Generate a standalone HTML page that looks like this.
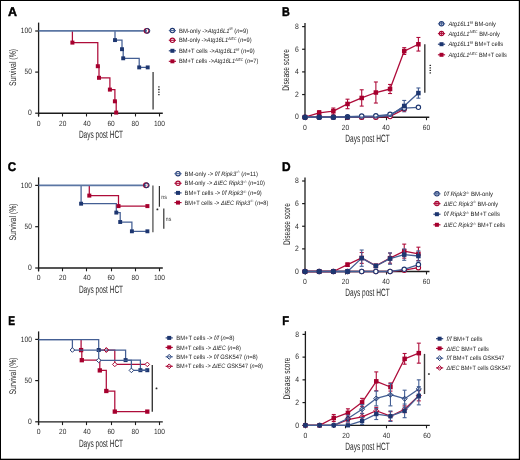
<!DOCTYPE html>
<html><head><meta charset="utf-8"><title>Figure</title>
<style>html,body{margin:0;padding:0;background:#fff;}body{width:520px;height:460px;overflow:hidden;font-family:"Liberation Sans",sans-serif;}svg{display:block;will-change:transform;text-rendering:geometricPrecision;}</style>
</head><body>
<svg width="520" height="460" viewBox="0 0 520 460" font-family='"Liberation Sans", sans-serif'>
<rect x="0" y="0" width="520" height="460" fill="#fff"/>
<text x="8" y="16.2" font-size="12.6" fill="#000" textLength="9" lengthAdjust="spacingAndGlyphs" font-weight="bold" stroke="#000" stroke-width="0.45">A</text>
<line x1="38.6" y1="22.6" x2="38.6" y2="116.5" stroke="#1c1c1c" stroke-width="1.3"/>
<line x1="37.95" y1="113.2" x2="162.8" y2="113.2" stroke="#1c1c1c" stroke-width="1.35"/>
<line x1="35.2" y1="113.2" x2="38.6" y2="113.2" stroke="#1c1c1c" stroke-width="1.2"/>
<text x="31.8" y="115.45" font-size="7.8" fill="#2a2a2a" text-anchor="end" textLength="3.8" lengthAdjust="spacingAndGlyphs">0</text>
<line x1="35.2" y1="72.1" x2="38.6" y2="72.1" stroke="#1c1c1c" stroke-width="1.2"/>
<text x="31.8" y="74.35" font-size="7.8" fill="#2a2a2a" text-anchor="end" textLength="7.3" lengthAdjust="spacingAndGlyphs">50</text>
<line x1="35.2" y1="31" x2="38.6" y2="31" stroke="#1c1c1c" stroke-width="1.2"/>
<text x="31.8" y="33.25" font-size="7.8" fill="#2a2a2a" text-anchor="end" textLength="11" lengthAdjust="spacingAndGlyphs">100</text>
<line x1="38.5" y1="113.2" x2="38.5" y2="116.5" stroke="#1c1c1c" stroke-width="1.1"/>
<text x="38.6" y="125.6" font-size="7.5" fill="#2a2a2a" text-anchor="middle" textLength="3.8" lengthAdjust="spacingAndGlyphs">0</text>
<line x1="62.5" y1="113.2" x2="62.5" y2="116.5" stroke="#1c1c1c" stroke-width="1.1"/>
<text x="62.76" y="125.6" font-size="7.5" fill="#2a2a2a" text-anchor="middle" textLength="7.3" lengthAdjust="spacingAndGlyphs">20</text>
<line x1="86.5" y1="113.2" x2="86.5" y2="116.5" stroke="#1c1c1c" stroke-width="1.1"/>
<text x="86.92" y="125.6" font-size="7.5" fill="#2a2a2a" text-anchor="middle" textLength="7.3" lengthAdjust="spacingAndGlyphs">40</text>
<line x1="111.5" y1="113.2" x2="111.5" y2="116.5" stroke="#1c1c1c" stroke-width="1.1"/>
<text x="111.08" y="125.6" font-size="7.5" fill="#2a2a2a" text-anchor="middle" textLength="7.3" lengthAdjust="spacingAndGlyphs">60</text>
<line x1="135.5" y1="113.2" x2="135.5" y2="116.5" stroke="#1c1c1c" stroke-width="1.1"/>
<text x="135.24" y="125.6" font-size="7.5" fill="#2a2a2a" text-anchor="middle" textLength="7.3" lengthAdjust="spacingAndGlyphs">80</text>
<line x1="159.5" y1="113.2" x2="159.5" y2="116.5" stroke="#1c1c1c" stroke-width="1.1"/>
<text x="159.4" y="125.6" font-size="7.5" fill="#2a2a2a" text-anchor="middle" textLength="11" lengthAdjust="spacingAndGlyphs">100</text>
<text x="16" y="67.5" font-size="9.6" fill="#2a2a2a" text-anchor="middle" textLength="37.2" lengthAdjust="spacingAndGlyphs" transform="rotate(-90 16 67.5)">Survival (%)</text>
<text x="101" y="137.9" font-size="10.6" fill="#2a2a2a" text-anchor="middle" textLength="44.2" lengthAdjust="spacingAndGlyphs">Days post HCT</text>
<path d="M72.4 31V42.6H97.8V66.2H99V77.8H109.9V89.6H114.9V101.3H116.2V112.9" stroke="#ae0c3a" stroke-width="1.25" fill="none"/>
<path d="M115 31V40.1H122V49.2H123.2V58.3H139.2V67.4H147.7" stroke="#445f94" stroke-width="1.25" fill="none"/>
<path d="M38.6 30.85H147" stroke="#5b76a3" stroke-width="1.7" fill="none"/>
<rect x="113.05" y="38.15" width="3.9" height="3.9" fill="#1d3670"/>
<rect x="120.05" y="47.25" width="3.9" height="3.9" fill="#1d3670"/>
<rect x="121.25" y="56.35" width="3.9" height="3.9" fill="#1d3670"/>
<rect x="137.25" y="65.45" width="3.9" height="3.9" fill="#1d3670"/>
<rect x="145.75" y="65.45" width="3.9" height="3.9" fill="#1d3670"/>
<rect x="70.4" y="40.6" width="4" height="4" fill="#a6002e"/>
<rect x="95.8" y="64.2" width="4" height="4" fill="#a6002e"/>
<rect x="97" y="75.8" width="4" height="4" fill="#a6002e"/>
<rect x="107.9" y="87.6" width="4" height="4" fill="#a6002e"/>
<rect x="112.9" y="99.3" width="4" height="4" fill="#a6002e"/>
<rect x="114.2" y="110.6" width="4" height="4" fill="#a6002e"/>
<circle cx="146.6" cy="30.85" r="2.4" stroke="#a6002e" stroke-width="1.15" fill="none"/>
<circle cx="147.4" cy="30.85" r="2.4" stroke="#1d3670" stroke-width="1" fill="none"/>
<line x1="153.1" y1="71.9" x2="153.1" y2="109.6" stroke="#555" stroke-width="1.5"/>
<rect x="158.1" y="86.25" width="1.6" height="1.3" rx="0.5" fill="#2a2a2a"/>
<rect x="158.1" y="88.85" width="1.6" height="1.3" rx="0.5" fill="#2a2a2a"/>
<rect x="158.1" y="91.45" width="1.6" height="1.3" rx="0.5" fill="#2a2a2a"/>
<rect x="158.1" y="94.05" width="1.6" height="1.3" rx="0.5" fill="#2a2a2a"/>
<circle cx="172.4" cy="30.6" r="2.2" stroke="#1d3670" stroke-width="1.1" fill="none"/>
<line x1="168.8" y1="30.6" x2="176" y2="30.6" stroke="#445f94" stroke-width="1.1"/>
<circle cx="172.4" cy="40.3" r="2.2" stroke="#a6002e" stroke-width="1.1" fill="none"/>
<line x1="168.8" y1="40.3" x2="176" y2="40.3" stroke="#ae0c3a" stroke-width="1.1"/>
<rect x="170.4" y="48.8" width="4" height="4" fill="#1d3670"/>
<line x1="168.8" y1="50.8" x2="176" y2="50.8" stroke="#1d3670" stroke-width="1.1"/>
<rect x="170.4" y="59.3" width="4" height="4" fill="#a6002e"/>
<line x1="168.8" y1="61.3" x2="176" y2="61.3" stroke="#a6002e" stroke-width="1.1"/>
<text x="179" y="32.7" font-size="6.3" fill="#222" textLength="69.2" lengthAdjust="spacingAndGlyphs"><tspan>BM-only -&gt;</tspan><tspan font-style="italic">Atg16L1</tspan><tspan font-size="3.9" dy="-2.4">f/f</tspan><tspan dy="2.4"> (</tspan><tspan font-style="italic">n</tspan><tspan>=9)</tspan></text>
<text x="179" y="42.4" font-size="6.3" fill="#222" textLength="72.6" lengthAdjust="spacingAndGlyphs"><tspan>BM-only -&gt;</tspan><tspan font-style="italic">Atg16L1</tspan><tspan font-size="3.9" dy="-2.4">ΔIEC</tspan><tspan dy="2.4"> (</tspan><tspan font-style="italic">n</tspan><tspan>=9)</tspan></text>
<text x="179" y="52.9" font-size="6.3" fill="#222" textLength="75.7" lengthAdjust="spacingAndGlyphs"><tspan>BM+T cells -&gt;</tspan><tspan font-style="italic">Atg16L1</tspan><tspan font-size="3.9" dy="-2.4">f/f</tspan><tspan dy="2.4"> (</tspan><tspan font-style="italic">n</tspan><tspan>=9)</tspan></text>
<text x="179" y="63.4" font-size="6.3" fill="#222" textLength="79.4" lengthAdjust="spacingAndGlyphs"><tspan>BM+T cells -&gt;</tspan><tspan font-style="italic">Atg16L1</tspan><tspan font-size="3.9" dy="-2.4">ΔIEC</tspan><tspan dy="2.4"> (</tspan><tspan font-style="italic">n</tspan><tspan>=7)</tspan></text>
<text x="7.8" y="171" font-size="12.6" fill="#000" textLength="8.4" lengthAdjust="spacingAndGlyphs" font-weight="bold" stroke="#000" stroke-width="0.45">C</text>
<line x1="38.6" y1="177.3" x2="38.6" y2="271.3" stroke="#1c1c1c" stroke-width="1.3"/>
<line x1="37.95" y1="268" x2="162.8" y2="268" stroke="#1c1c1c" stroke-width="1.35"/>
<line x1="35.2" y1="268" x2="38.6" y2="268" stroke="#1c1c1c" stroke-width="1.2"/>
<text x="31.8" y="270.25" font-size="7.8" fill="#2a2a2a" text-anchor="end" textLength="3.8" lengthAdjust="spacingAndGlyphs">0</text>
<line x1="35.2" y1="226.7" x2="38.6" y2="226.7" stroke="#1c1c1c" stroke-width="1.2"/>
<text x="31.8" y="228.95" font-size="7.8" fill="#2a2a2a" text-anchor="end" textLength="7.3" lengthAdjust="spacingAndGlyphs">50</text>
<line x1="35.2" y1="185.4" x2="38.6" y2="185.4" stroke="#1c1c1c" stroke-width="1.2"/>
<text x="31.8" y="187.65" font-size="7.8" fill="#2a2a2a" text-anchor="end" textLength="11" lengthAdjust="spacingAndGlyphs">100</text>
<line x1="38.5" y1="268" x2="38.5" y2="271.3" stroke="#1c1c1c" stroke-width="1.1"/>
<text x="38.6" y="280.4" font-size="7.5" fill="#2a2a2a" text-anchor="middle" textLength="3.8" lengthAdjust="spacingAndGlyphs">0</text>
<line x1="62.5" y1="268" x2="62.5" y2="271.3" stroke="#1c1c1c" stroke-width="1.1"/>
<text x="62.76" y="280.4" font-size="7.5" fill="#2a2a2a" text-anchor="middle" textLength="7.3" lengthAdjust="spacingAndGlyphs">20</text>
<line x1="86.5" y1="268" x2="86.5" y2="271.3" stroke="#1c1c1c" stroke-width="1.1"/>
<text x="86.92" y="280.4" font-size="7.5" fill="#2a2a2a" text-anchor="middle" textLength="7.3" lengthAdjust="spacingAndGlyphs">40</text>
<line x1="111.5" y1="268" x2="111.5" y2="271.3" stroke="#1c1c1c" stroke-width="1.1"/>
<text x="111.08" y="280.4" font-size="7.5" fill="#2a2a2a" text-anchor="middle" textLength="7.3" lengthAdjust="spacingAndGlyphs">60</text>
<line x1="135.5" y1="268" x2="135.5" y2="271.3" stroke="#1c1c1c" stroke-width="1.1"/>
<text x="135.24" y="280.4" font-size="7.5" fill="#2a2a2a" text-anchor="middle" textLength="7.3" lengthAdjust="spacingAndGlyphs">80</text>
<line x1="159.5" y1="268" x2="159.5" y2="271.3" stroke="#1c1c1c" stroke-width="1.1"/>
<text x="159.4" y="280.4" font-size="7.5" fill="#2a2a2a" text-anchor="middle" textLength="11" lengthAdjust="spacingAndGlyphs">100</text>
<text x="16" y="222" font-size="9.6" fill="#2a2a2a" text-anchor="middle" textLength="37.2" lengthAdjust="spacingAndGlyphs" transform="rotate(-90 16 222)">Survival (%)</text>
<text x="101" y="292.5" font-size="10.6" fill="#2a2a2a" text-anchor="middle" textLength="44.2" lengthAdjust="spacingAndGlyphs">Days post HCT</text>
<path d="M89.3 185.4V195.6H118.5V206.1H147.4" stroke="#ae0c3a" stroke-width="1.25" fill="none"/>
<path d="M81.1 185.4V203.7H116.3V212.6H120.2V222H131.9V231.3H147.4" stroke="#445f94" stroke-width="1.25" fill="none"/>
<path d="M38.6 185.4H146.4" stroke="#5b76a3" stroke-width="1.6" fill="none"/>
<rect x="79.15" y="201.75" width="3.9" height="3.9" fill="#1d3670"/>
<rect x="114.35" y="210.65" width="3.9" height="3.9" fill="#1d3670"/>
<rect x="118.25" y="220.05" width="3.9" height="3.9" fill="#1d3670"/>
<rect x="129.95" y="229.35" width="3.9" height="3.9" fill="#1d3670"/>
<rect x="145.45" y="229.35" width="3.9" height="3.9" fill="#1d3670"/>
<rect x="87.3" y="193.6" width="4" height="4" fill="#a6002e"/>
<rect x="116.5" y="204.1" width="4" height="4" fill="#a6002e"/>
<rect x="145.4" y="204.1" width="4" height="4" fill="#a6002e"/>
<circle cx="146" cy="185.3" r="2.4" stroke="#a6002e" stroke-width="1.15" fill="none"/>
<circle cx="146.8" cy="185.3" r="2.4" stroke="#1d3670" stroke-width="1" fill="none"/>
<line x1="152.9" y1="185.6" x2="152.9" y2="232.2" stroke="#6a6a6a" stroke-width="1.5"/>
<line x1="159.4" y1="186" x2="159.4" y2="206.7" stroke="#333" stroke-width="1.2"/>
<line x1="163.8" y1="208.6" x2="163.8" y2="228.7" stroke="#333" stroke-width="1.2"/>
<text x="164" y="198.8" font-size="6" fill="#333" text-anchor="middle" textLength="5.6" lengthAdjust="spacingAndGlyphs">ns</text>
<text x="168.5" y="221.1" font-size="6" fill="#333" text-anchor="middle" textLength="5.4" lengthAdjust="spacingAndGlyphs">ns</text>
<rect x="156.5" y="208.45" width="1.8" height="1.7" rx="0.5" fill="#2a2a2a"/>
<circle cx="178" cy="173.7" r="2.2" stroke="#1d3670" stroke-width="1.1" fill="none"/>
<line x1="174.4" y1="173.7" x2="181.6" y2="173.7" stroke="#445f94" stroke-width="1.1"/>
<circle cx="178" cy="183.3" r="2.2" stroke="#a6002e" stroke-width="1.1" fill="none"/>
<line x1="174.4" y1="183.3" x2="181.6" y2="183.3" stroke="#ae0c3a" stroke-width="1.1"/>
<rect x="176" y="190.9" width="4" height="4" fill="#1d3670"/>
<line x1="174.4" y1="192.9" x2="181.6" y2="192.9" stroke="#1d3670" stroke-width="1.1"/>
<rect x="176" y="200.6" width="4" height="4" fill="#a6002e"/>
<line x1="174.4" y1="202.6" x2="181.6" y2="202.6" stroke="#a6002e" stroke-width="1.1"/>
<text x="184.6" y="175.8" font-size="6.3" fill="#222" textLength="73.4" lengthAdjust="spacingAndGlyphs"><tspan>BM-only -&gt; </tspan><tspan font-style="italic">f/f Ripk3</tspan><tspan font-size="3.9" dy="-2.4">-/-</tspan><tspan dy="2.4"> (</tspan><tspan font-style="italic">n</tspan><tspan>=11)</tspan></text>
<text x="184.6" y="185.4" font-size="6.3" fill="#222" textLength="80.2" lengthAdjust="spacingAndGlyphs"><tspan>BM-only -&gt; </tspan><tspan font-style="italic">ΔIEC Ripk3</tspan><tspan font-size="3.9" dy="-2.4">-/-</tspan><tspan dy="2.4"> (</tspan><tspan font-style="italic">n</tspan><tspan>=10)</tspan></text>
<text x="184.6" y="195" font-size="6.3" fill="#222" textLength="77.2" lengthAdjust="spacingAndGlyphs"><tspan>BM+T cells -&gt; </tspan><tspan font-style="italic">f/f Ripk3</tspan><tspan font-size="3.9" dy="-2.4">-/-</tspan><tspan dy="2.4"> (</tspan><tspan font-style="italic">n</tspan><tspan>=9)</tspan></text>
<text x="184.6" y="204.7" font-size="6.3" fill="#222" textLength="83.8" lengthAdjust="spacingAndGlyphs"><tspan>BM+T cells -&gt; </tspan><tspan font-style="italic">ΔIEC Ripk3</tspan><tspan font-size="3.9" dy="-2.4">-/-</tspan><tspan dy="2.4"> (</tspan><tspan font-style="italic">n</tspan><tspan>=8)</tspan></text>
<text x="8.3" y="325" font-size="12.6" fill="#000" textLength="6.8" lengthAdjust="spacingAndGlyphs" font-weight="bold" stroke="#000" stroke-width="0.45">E</text>
<line x1="38.6" y1="331.4" x2="38.6" y2="425.1" stroke="#1c1c1c" stroke-width="1.3"/>
<line x1="37.95" y1="421.8" x2="162.8" y2="421.8" stroke="#1c1c1c" stroke-width="1.35"/>
<line x1="35.2" y1="421.8" x2="38.6" y2="421.8" stroke="#1c1c1c" stroke-width="1.2"/>
<text x="31.8" y="424.05" font-size="7.8" fill="#2a2a2a" text-anchor="end" textLength="3.8" lengthAdjust="spacingAndGlyphs">0</text>
<line x1="35.2" y1="380.6" x2="38.6" y2="380.6" stroke="#1c1c1c" stroke-width="1.2"/>
<text x="31.8" y="382.85" font-size="7.8" fill="#2a2a2a" text-anchor="end" textLength="7.3" lengthAdjust="spacingAndGlyphs">50</text>
<line x1="35.2" y1="339.4" x2="38.6" y2="339.4" stroke="#1c1c1c" stroke-width="1.2"/>
<text x="31.8" y="341.65" font-size="7.8" fill="#2a2a2a" text-anchor="end" textLength="11" lengthAdjust="spacingAndGlyphs">100</text>
<line x1="38.5" y1="421.8" x2="38.5" y2="425.1" stroke="#1c1c1c" stroke-width="1.1"/>
<text x="38.6" y="434.2" font-size="7.5" fill="#2a2a2a" text-anchor="middle" textLength="3.8" lengthAdjust="spacingAndGlyphs">0</text>
<line x1="62.5" y1="421.8" x2="62.5" y2="425.1" stroke="#1c1c1c" stroke-width="1.1"/>
<text x="62.76" y="434.2" font-size="7.5" fill="#2a2a2a" text-anchor="middle" textLength="7.3" lengthAdjust="spacingAndGlyphs">20</text>
<line x1="86.5" y1="421.8" x2="86.5" y2="425.1" stroke="#1c1c1c" stroke-width="1.1"/>
<text x="86.92" y="434.2" font-size="7.5" fill="#2a2a2a" text-anchor="middle" textLength="7.3" lengthAdjust="spacingAndGlyphs">40</text>
<line x1="111.5" y1="421.8" x2="111.5" y2="425.1" stroke="#1c1c1c" stroke-width="1.1"/>
<text x="111.08" y="434.2" font-size="7.5" fill="#2a2a2a" text-anchor="middle" textLength="7.3" lengthAdjust="spacingAndGlyphs">60</text>
<line x1="135.5" y1="421.8" x2="135.5" y2="425.1" stroke="#1c1c1c" stroke-width="1.1"/>
<text x="135.24" y="434.2" font-size="7.5" fill="#2a2a2a" text-anchor="middle" textLength="7.3" lengthAdjust="spacingAndGlyphs">80</text>
<line x1="159.5" y1="421.8" x2="159.5" y2="425.1" stroke="#1c1c1c" stroke-width="1.1"/>
<text x="159.4" y="434.2" font-size="7.5" fill="#2a2a2a" text-anchor="middle" textLength="11" lengthAdjust="spacingAndGlyphs">100</text>
<text x="16" y="376" font-size="9.6" fill="#2a2a2a" text-anchor="middle" textLength="37.2" lengthAdjust="spacingAndGlyphs" transform="rotate(-90 16 376)">Survival (%)</text>
<text x="101" y="446.5" font-size="10.6" fill="#2a2a2a" text-anchor="middle" textLength="44.2" lengthAdjust="spacingAndGlyphs">Days post HCT</text>
<path d="M81.1 339.5V350.1H81.8V360.2H99.8V370.4H106.3V391H114.8V411.6H147.3" stroke="#ae0c3a" stroke-width="1.25" fill="none"/>
<rect x="78.95" y="347.95" width="4.3" height="4.3" fill="#a6002e"/>
<rect x="79.65" y="358.05" width="4.3" height="4.3" fill="#a6002e"/>
<rect x="97.65" y="368.25" width="4.3" height="4.3" fill="#a6002e"/>
<rect x="104.15" y="388.85" width="4.3" height="4.3" fill="#a6002e"/>
<rect x="112.65" y="409.45" width="4.3" height="4.3" fill="#a6002e"/>
<rect x="145.15" y="409.45" width="4.3" height="4.3" fill="#a6002e"/>
<path d="M98.7 350H114.8V364.4H147.3" stroke="#ae0c3a" stroke-width="1.25" fill="none"/>
<path d="M106.3 347.7L108.6 350L106.3 352.3L104 350Z" stroke="#a6002e" stroke-width="0.95" fill="#fff"/>
<path d="M114.8 362.1L117.1 364.4L114.8 366.7L112.5 364.4Z" stroke="#a6002e" stroke-width="0.95" fill="#fff"/>
<path d="M147.3 362.1L149.6 364.4L147.3 366.7L145 364.4Z" stroke="#a6002e" stroke-width="0.95" fill="#fff"/>
<path d="M38.6 339.5H98.7V350H125.6V360.1H140.4V370.2H147.3" stroke="#445f94" stroke-width="1.25" fill="none"/>
<rect x="96.7" y="348" width="4" height="4" fill="#1d3670"/>
<rect x="123.6" y="358.1" width="4" height="4" fill="#1d3670"/>
<rect x="138.4" y="368.2" width="4" height="4" fill="#1d3670"/>
<rect x="145.3" y="368.2" width="4" height="4" fill="#1d3670"/>
<path d="M38.6 339.5H72.4V350H98.7V360.4H131.4V370.4H147.3" stroke="#445f94" stroke-width="1.25" fill="none"/>
<path d="M72.4 347.7L74.7 350L72.4 352.3L70.1 350Z" stroke="#1d3670" stroke-width="0.95" fill="#fff"/>
<path d="M98.7 358.1L101 360.4L98.7 362.7L96.4 360.4Z" stroke="#1d3670" stroke-width="0.95" fill="#fff"/>
<path d="M131.4 368.1L133.7 370.4L131.4 372.7L129.1 370.4Z" stroke="#1d3670" stroke-width="0.95" fill="#fff"/>
<path d="M106.3 347.7L108.6 350L106.3 352.3L104 350Z" stroke="#a6002e" stroke-width="0.95" fill="none"/>
<line x1="152.3" y1="365" x2="152.3" y2="411.7" stroke="#3a3a3a" stroke-width="1.4"/>
<rect x="155.6" y="387.45" width="1.8" height="1.7" rx="0.5" fill="#2a2a2a"/>
<rect x="167.2" y="335.9" width="4" height="4" fill="#1d3670"/>
<line x1="165.6" y1="337.9" x2="172.8" y2="337.9" stroke="#1d3670" stroke-width="1.1"/>
<rect x="167.2" y="345.4" width="4" height="4" fill="#a6002e"/>
<line x1="165.6" y1="347.4" x2="172.8" y2="347.4" stroke="#a6002e" stroke-width="1.1"/>
<path d="M169.2 354.4L171.6 356.8L169.2 359.2L166.8 356.8Z" stroke="#1d3670" stroke-width="1" fill="none"/>
<line x1="165.6" y1="356.8" x2="172.8" y2="356.8" stroke="#445f94" stroke-width="1.1"/>
<path d="M169.2 363.9L171.6 366.3L169.2 368.7L166.8 366.3Z" stroke="#a6002e" stroke-width="1" fill="none"/>
<line x1="165.6" y1="366.3" x2="172.8" y2="366.3" stroke="#ae0c3a" stroke-width="1.1"/>
<text x="176.3" y="340" font-size="6.3" fill="#222" textLength="58.1" lengthAdjust="spacingAndGlyphs"><tspan>BM+T cells -&gt; </tspan><tspan font-style="italic">f/f</tspan><tspan> (</tspan><tspan font-style="italic">n</tspan><tspan>=8)</tspan></text>
<text x="176.3" y="349.5" font-size="6.3" fill="#222" textLength="64.5" lengthAdjust="spacingAndGlyphs"><tspan>BM+T cells -&gt; </tspan><tspan font-style="italic">ΔIEC</tspan><tspan> (</tspan><tspan font-style="italic">n</tspan><tspan>=8)</tspan></text>
<text x="176.3" y="358.9" font-size="6.3" fill="#222" textLength="81.5" lengthAdjust="spacingAndGlyphs"><tspan>BM+T cells -&gt; </tspan><tspan font-style="italic">f/f</tspan><tspan> GSK547 (</tspan><tspan font-style="italic">n</tspan><tspan>=8)</tspan></text>
<text x="176.3" y="368.4" font-size="6.3" fill="#222" textLength="86.6" lengthAdjust="spacingAndGlyphs"><tspan>BM+T cells -&gt; </tspan><tspan font-style="italic">ΔIEC</tspan><tspan> GSK547 (</tspan><tspan font-style="italic">n</tspan><tspan>=8)</tspan></text>
<text x="282" y="16.4" font-size="12.6" fill="#000" textLength="7.8" lengthAdjust="spacingAndGlyphs" font-weight="bold" stroke="#000" stroke-width="0.45">B</text>
<line x1="305" y1="23.1" x2="305" y2="117.2" stroke="#1c1c1c" stroke-width="1.3"/>
<line x1="304.35" y1="117.2" x2="429.3" y2="117.2" stroke="#1c1c1c" stroke-width="1.35"/>
<line x1="302.1" y1="117.2" x2="305" y2="117.2" stroke="#1c1c1c" stroke-width="1.2"/>
<text x="298.7" y="119.45" font-size="7.8" fill="#2a2a2a" text-anchor="end" textLength="3.8" lengthAdjust="spacingAndGlyphs">0</text>
<line x1="302.1" y1="94.55" x2="305" y2="94.55" stroke="#1c1c1c" stroke-width="1.2"/>
<text x="298.7" y="96.8" font-size="7.8" fill="#2a2a2a" text-anchor="end" textLength="3.8" lengthAdjust="spacingAndGlyphs">2</text>
<line x1="302.1" y1="71.9" x2="305" y2="71.9" stroke="#1c1c1c" stroke-width="1.2"/>
<text x="298.7" y="74.15" font-size="7.8" fill="#2a2a2a" text-anchor="end" textLength="3.8" lengthAdjust="spacingAndGlyphs">4</text>
<line x1="302.1" y1="49.25" x2="305" y2="49.25" stroke="#1c1c1c" stroke-width="1.2"/>
<text x="298.7" y="51.5" font-size="7.8" fill="#2a2a2a" text-anchor="end" textLength="3.8" lengthAdjust="spacingAndGlyphs">6</text>
<line x1="302.1" y1="26.6" x2="305" y2="26.6" stroke="#1c1c1c" stroke-width="1.2"/>
<text x="298.7" y="28.85" font-size="7.8" fill="#2a2a2a" text-anchor="end" textLength="3.8" lengthAdjust="spacingAndGlyphs">8</text>
<line x1="305.5" y1="117.2" x2="305.5" y2="120.2" stroke="#1c1c1c" stroke-width="1.1"/>
<text x="305" y="129.5" font-size="7.5" fill="#2a2a2a" text-anchor="middle" textLength="3.8" lengthAdjust="spacingAndGlyphs">0</text>
<line x1="345.5" y1="117.2" x2="345.5" y2="120.2" stroke="#1c1c1c" stroke-width="1.1"/>
<text x="345.5" y="129.5" font-size="7.5" fill="#2a2a2a" text-anchor="middle" textLength="7.3" lengthAdjust="spacingAndGlyphs">20</text>
<line x1="386.5" y1="117.2" x2="386.5" y2="120.2" stroke="#1c1c1c" stroke-width="1.1"/>
<text x="386" y="129.5" font-size="7.5" fill="#2a2a2a" text-anchor="middle" textLength="7.3" lengthAdjust="spacingAndGlyphs">40</text>
<line x1="426.5" y1="117.2" x2="426.5" y2="120.2" stroke="#1c1c1c" stroke-width="1.1"/>
<text x="426.5" y="129.5" font-size="7.5" fill="#2a2a2a" text-anchor="middle" textLength="7.3" lengthAdjust="spacingAndGlyphs">60</text>
<text x="289.5" y="69.9" font-size="9.6" fill="#2a2a2a" text-anchor="middle" textLength="41.8" lengthAdjust="spacingAndGlyphs" transform="rotate(-90 289.5 69.9)">Disease score</text>
<text x="367.5" y="142.2" font-size="10.6" fill="#2a2a2a" text-anchor="middle" textLength="44.4" lengthAdjust="spacingAndGlyphs">Days post HCT</text>
<line x1="319.18" y1="110.63" x2="319.18" y2="115.16" stroke="#ae0c3a" stroke-width="1.1"/>
<line x1="317.18" y1="110.63" x2="321.18" y2="110.63" stroke="#ae0c3a" stroke-width="1.1"/>
<line x1="317.18" y1="115.16" x2="321.18" y2="115.16" stroke="#ae0c3a" stroke-width="1.1"/>
<line x1="333.35" y1="108.03" x2="333.35" y2="114.14" stroke="#ae0c3a" stroke-width="1.1"/>
<line x1="331.35" y1="108.03" x2="335.35" y2="108.03" stroke="#ae0c3a" stroke-width="1.1"/>
<line x1="331.35" y1="114.14" x2="335.35" y2="114.14" stroke="#ae0c3a" stroke-width="1.1"/>
<line x1="347.52" y1="99.19" x2="347.52" y2="108.71" stroke="#ae0c3a" stroke-width="1.1"/>
<line x1="345.52" y1="99.19" x2="349.52" y2="99.19" stroke="#ae0c3a" stroke-width="1.1"/>
<line x1="345.52" y1="108.71" x2="349.52" y2="108.71" stroke="#ae0c3a" stroke-width="1.1"/>
<line x1="361.7" y1="89.79" x2="361.7" y2="106.1" stroke="#ae0c3a" stroke-width="1.1"/>
<line x1="359.7" y1="89.79" x2="363.7" y2="89.79" stroke="#ae0c3a" stroke-width="1.1"/>
<line x1="359.7" y1="106.1" x2="363.7" y2="106.1" stroke="#ae0c3a" stroke-width="1.1"/>
<line x1="375.88" y1="81.98" x2="375.88" y2="103.04" stroke="#ae0c3a" stroke-width="1.1"/>
<line x1="373.88" y1="81.98" x2="377.88" y2="81.98" stroke="#ae0c3a" stroke-width="1.1"/>
<line x1="373.88" y1="103.04" x2="377.88" y2="103.04" stroke="#ae0c3a" stroke-width="1.1"/>
<line x1="390.05" y1="84.47" x2="390.05" y2="93.53" stroke="#ae0c3a" stroke-width="1.1"/>
<line x1="388.05" y1="84.47" x2="392.05" y2="84.47" stroke="#ae0c3a" stroke-width="1.1"/>
<line x1="388.05" y1="93.53" x2="392.05" y2="93.53" stroke="#ae0c3a" stroke-width="1.1"/>
<line x1="404.23" y1="47.66" x2="404.23" y2="54.46" stroke="#ae0c3a" stroke-width="1.1"/>
<line x1="402.23" y1="47.66" x2="406.23" y2="47.66" stroke="#ae0c3a" stroke-width="1.1"/>
<line x1="402.23" y1="54.46" x2="406.23" y2="54.46" stroke="#ae0c3a" stroke-width="1.1"/>
<line x1="418.4" y1="37.47" x2="418.4" y2="51.06" stroke="#ae0c3a" stroke-width="1.1"/>
<line x1="416.4" y1="37.47" x2="420.4" y2="37.47" stroke="#ae0c3a" stroke-width="1.1"/>
<line x1="416.4" y1="51.06" x2="420.4" y2="51.06" stroke="#ae0c3a" stroke-width="1.1"/>
<path d="M305 117.2L319.18 112.9L333.35 111.08L347.52 103.95L361.7 97.95L375.88 92.51L390.05 89L404.23 51.06L418.4 44.27" stroke="#ae0c3a" stroke-width="1.3" fill="none" stroke-linejoin="round"/>
<rect x="302.75" y="114.95" width="4.5" height="4.5" fill="#a6002e"/>
<rect x="316.93" y="110.65" width="4.5" height="4.5" fill="#a6002e"/>
<rect x="331.1" y="108.83" width="4.5" height="4.5" fill="#a6002e"/>
<rect x="345.27" y="101.7" width="4.5" height="4.5" fill="#a6002e"/>
<rect x="359.45" y="95.7" width="4.5" height="4.5" fill="#a6002e"/>
<rect x="373.62" y="90.26" width="4.5" height="4.5" fill="#a6002e"/>
<rect x="387.8" y="86.75" width="4.5" height="4.5" fill="#a6002e"/>
<rect x="401.98" y="48.81" width="4.5" height="4.5" fill="#a6002e"/>
<rect x="416.15" y="42.02" width="4.5" height="4.5" fill="#a6002e"/>
<line x1="404.23" y1="100.44" x2="404.23" y2="111.76" stroke="#445f94" stroke-width="1.1"/>
<line x1="402.23" y1="100.44" x2="406.23" y2="100.44" stroke="#445f94" stroke-width="1.1"/>
<line x1="402.23" y1="111.76" x2="406.23" y2="111.76" stroke="#445f94" stroke-width="1.1"/>
<line x1="418.4" y1="87.98" x2="418.4" y2="98.17" stroke="#445f94" stroke-width="1.1"/>
<line x1="416.4" y1="87.98" x2="420.4" y2="87.98" stroke="#445f94" stroke-width="1.1"/>
<line x1="416.4" y1="98.17" x2="420.4" y2="98.17" stroke="#445f94" stroke-width="1.1"/>
<path d="M305 117.2L319.18 117.2L333.35 117.2L347.52 117.2L361.7 117.2L375.88 116.97L390.05 115.5L404.23 106.1L418.4 93.08" stroke="#445f94" stroke-width="1.3" fill="none" stroke-linejoin="round"/>
<rect x="302.75" y="114.95" width="4.5" height="4.5" fill="#1d3670"/>
<rect x="316.93" y="114.95" width="4.5" height="4.5" fill="#1d3670"/>
<rect x="331.1" y="114.95" width="4.5" height="4.5" fill="#1d3670"/>
<rect x="345.27" y="114.95" width="4.5" height="4.5" fill="#1d3670"/>
<rect x="359.45" y="114.95" width="4.5" height="4.5" fill="#1d3670"/>
<rect x="373.62" y="114.72" width="4.5" height="4.5" fill="#1d3670"/>
<rect x="387.8" y="113.25" width="4.5" height="4.5" fill="#1d3670"/>
<rect x="401.98" y="103.85" width="4.5" height="4.5" fill="#1d3670"/>
<rect x="416.15" y="90.83" width="4.5" height="4.5" fill="#1d3670"/>
<path d="M305 117.2L319.18 117.2L333.35 117.2L347.52 117.2L361.7 117.2L375.88 117.2L390.05 116.52L404.23 109.05" stroke="#ae0c3a" stroke-width="1.3" fill="none" stroke-linejoin="round"/>
<circle cx="305" cy="117.2" r="2.2" stroke="#a6002e" stroke-width="1.1" fill="#fff"/>
<circle cx="319.18" cy="117.2" r="2.2" stroke="#a6002e" stroke-width="1.1" fill="#fff"/>
<circle cx="333.35" cy="117.2" r="2.2" stroke="#a6002e" stroke-width="1.1" fill="#fff"/>
<circle cx="347.52" cy="117.2" r="2.2" stroke="#a6002e" stroke-width="1.1" fill="#fff"/>
<circle cx="361.7" cy="117.2" r="2.2" stroke="#a6002e" stroke-width="1.1" fill="#fff"/>
<circle cx="375.88" cy="117.2" r="2.2" stroke="#a6002e" stroke-width="1.1" fill="#fff"/>
<circle cx="390.05" cy="116.52" r="2.2" stroke="#a6002e" stroke-width="1.1" fill="#fff"/>
<circle cx="404.23" cy="109.05" r="2.2" stroke="#a6002e" stroke-width="1.1" fill="#fff"/>
<path d="M305 117.2L319.18 117.2L333.35 117.2L347.52 116.75L361.7 116.07L375.88 115.84L390.05 114.37L404.23 108.14L418.4 107.35" stroke="#445f94" stroke-width="1.3" fill="none" stroke-linejoin="round"/>
<circle cx="305" cy="117.2" r="2.2" stroke="#1d3670" stroke-width="1.1" fill="#fff"/>
<circle cx="319.18" cy="117.2" r="2.2" stroke="#1d3670" stroke-width="1.1" fill="#fff"/>
<circle cx="333.35" cy="117.2" r="2.2" stroke="#1d3670" stroke-width="1.1" fill="#fff"/>
<circle cx="347.52" cy="116.75" r="2.2" stroke="#1d3670" stroke-width="1.1" fill="#fff"/>
<circle cx="361.7" cy="116.07" r="2.2" stroke="#1d3670" stroke-width="1.1" fill="#fff"/>
<circle cx="375.88" cy="115.84" r="2.2" stroke="#1d3670" stroke-width="1.1" fill="#fff"/>
<circle cx="390.05" cy="114.37" r="2.2" stroke="#1d3670" stroke-width="1.1" fill="#fff"/>
<circle cx="404.23" cy="108.14" r="2.2" stroke="#1d3670" stroke-width="1.1" fill="#fff"/>
<circle cx="418.4" cy="107.35" r="2.2" stroke="#1d3670" stroke-width="1.1" fill="#fff"/>
<path d="M305 117.2L319.18 117.2L333.35 117.2L347.52 117.2L361.7 117.2L375.88 116.97L390.05 115.5L404.23 106.1" stroke="#445f94" stroke-width="1.3" fill="none"/>
<circle cx="305" cy="117.2" r="2.5" stroke="#1d3670" stroke-width="0.1" fill="#1d3670"/>
<circle cx="319.18" cy="117.2" r="2.5" stroke="#1d3670" stroke-width="0.1" fill="#1d3670"/>
<circle cx="333.35" cy="117.2" r="2.5" stroke="#1d3670" stroke-width="0.1" fill="#1d3670"/>
<rect x="401.98" y="103.85" width="4.5" height="4.5" fill="#1d3670"/>
<rect x="345.38" y="115.05" width="4.3" height="4.3" fill="#1d3670"/>
<line x1="424.8" y1="44.2" x2="424.8" y2="92.7" stroke="#444" stroke-width="1.5"/>
<rect x="429.45" y="64.65" width="1.6" height="1.3" rx="0.5" fill="#2a2a2a"/>
<rect x="429.45" y="67.15" width="1.6" height="1.3" rx="0.5" fill="#2a2a2a"/>
<rect x="429.45" y="69.65" width="1.6" height="1.3" rx="0.5" fill="#2a2a2a"/>
<rect x="429.45" y="72.15" width="1.6" height="1.3" rx="0.5" fill="#2a2a2a"/>
<circle cx="441.5" cy="23.8" r="2.2" stroke="#1d3670" stroke-width="1.1" fill="none"/>
<line x1="441.5" y1="21.6" x2="441.5" y2="26" stroke="#445f94" stroke-width="0.9"/>
<line x1="437.9" y1="23.8" x2="445.1" y2="23.8" stroke="#445f94" stroke-width="1.1"/>
<circle cx="441.5" cy="33.6" r="2.2" stroke="#a6002e" stroke-width="1.1" fill="none"/>
<line x1="441.5" y1="31.4" x2="441.5" y2="35.8" stroke="#ae0c3a" stroke-width="0.9"/>
<line x1="437.9" y1="33.6" x2="445.1" y2="33.6" stroke="#ae0c3a" stroke-width="1.1"/>
<rect x="439.5" y="42.2" width="4" height="4" fill="#1d3670"/>
<line x1="437.9" y1="44.2" x2="445.1" y2="44.2" stroke="#1d3670" stroke-width="1.1"/>
<rect x="439.5" y="52.8" width="4" height="4" fill="#a6002e"/>
<line x1="437.9" y1="54.8" x2="445.1" y2="54.8" stroke="#a6002e" stroke-width="1.1"/>
<text x="448.4" y="25.9" font-size="6.3" fill="#222" textLength="47.5" lengthAdjust="spacingAndGlyphs"><tspan font-style="italic">Atg16L1</tspan><tspan font-size="3.9" dy="-2.4">f/f</tspan><tspan dy="2.4"> BM-only</tspan></text>
<text x="448.4" y="35.7" font-size="6.3" fill="#222" textLength="51.5" lengthAdjust="spacingAndGlyphs"><tspan font-style="italic">Atg16L1</tspan><tspan font-size="3.9" dy="-2.4">ΔIEC</tspan><tspan dy="2.4"> BM-only</tspan></text>
<text x="448.4" y="46.3" font-size="6.3" fill="#222" textLength="54.8" lengthAdjust="spacingAndGlyphs"><tspan font-style="italic">Atg16L1</tspan><tspan font-size="3.9" dy="-2.4">f/f</tspan><tspan dy="2.4"> BM+T cells</tspan></text>
<text x="448.4" y="56.9" font-size="6.3" fill="#222" textLength="58.4" lengthAdjust="spacingAndGlyphs"><tspan font-style="italic">Atg16L1</tspan><tspan font-size="3.9" dy="-2.4">ΔIEC</tspan><tspan dy="2.4"> BM+T cells</tspan></text>
<text x="281.9" y="170.7" font-size="12.6" fill="#000" textLength="8.6" lengthAdjust="spacingAndGlyphs" font-weight="bold" stroke="#000" stroke-width="0.45">D</text>
<line x1="305" y1="177.5" x2="305" y2="271.5" stroke="#1c1c1c" stroke-width="1.3"/>
<line x1="304.35" y1="271.5" x2="429.5" y2="271.5" stroke="#1c1c1c" stroke-width="1.35"/>
<line x1="302.1" y1="271.5" x2="305" y2="271.5" stroke="#1c1c1c" stroke-width="1.2"/>
<text x="298.7" y="273.75" font-size="7.8" fill="#2a2a2a" text-anchor="end" textLength="3.8" lengthAdjust="spacingAndGlyphs">0</text>
<line x1="302.1" y1="248.88" x2="305" y2="248.88" stroke="#1c1c1c" stroke-width="1.2"/>
<text x="298.7" y="251.12" font-size="7.8" fill="#2a2a2a" text-anchor="end" textLength="3.8" lengthAdjust="spacingAndGlyphs">2</text>
<line x1="302.1" y1="226.25" x2="305" y2="226.25" stroke="#1c1c1c" stroke-width="1.2"/>
<text x="298.7" y="228.5" font-size="7.8" fill="#2a2a2a" text-anchor="end" textLength="3.8" lengthAdjust="spacingAndGlyphs">4</text>
<line x1="302.1" y1="203.62" x2="305" y2="203.62" stroke="#1c1c1c" stroke-width="1.2"/>
<text x="298.7" y="205.88" font-size="7.8" fill="#2a2a2a" text-anchor="end" textLength="3.8" lengthAdjust="spacingAndGlyphs">6</text>
<line x1="302.1" y1="181" x2="305" y2="181" stroke="#1c1c1c" stroke-width="1.2"/>
<text x="298.7" y="183.25" font-size="7.8" fill="#2a2a2a" text-anchor="end" textLength="3.8" lengthAdjust="spacingAndGlyphs">8</text>
<line x1="305.5" y1="271.5" x2="305.5" y2="274.5" stroke="#1c1c1c" stroke-width="1.1"/>
<text x="305" y="283.7" font-size="7.5" fill="#2a2a2a" text-anchor="middle" textLength="3.8" lengthAdjust="spacingAndGlyphs">0</text>
<line x1="345.5" y1="271.5" x2="345.5" y2="274.5" stroke="#1c1c1c" stroke-width="1.1"/>
<text x="345.5" y="283.7" font-size="7.5" fill="#2a2a2a" text-anchor="middle" textLength="7.3" lengthAdjust="spacingAndGlyphs">20</text>
<line x1="386.5" y1="271.5" x2="386.5" y2="274.5" stroke="#1c1c1c" stroke-width="1.1"/>
<text x="386" y="283.7" font-size="7.5" fill="#2a2a2a" text-anchor="middle" textLength="7.3" lengthAdjust="spacingAndGlyphs">40</text>
<line x1="426.5" y1="271.5" x2="426.5" y2="274.5" stroke="#1c1c1c" stroke-width="1.1"/>
<text x="426.5" y="283.7" font-size="7.5" fill="#2a2a2a" text-anchor="middle" textLength="7.3" lengthAdjust="spacingAndGlyphs">60</text>
<text x="289.5" y="224" font-size="9.6" fill="#2a2a2a" text-anchor="middle" textLength="41.8" lengthAdjust="spacingAndGlyphs" transform="rotate(-90 289.5 224)">Disease score</text>
<text x="367.5" y="296.3" font-size="10.6" fill="#2a2a2a" text-anchor="middle" textLength="44.4" lengthAdjust="spacingAndGlyphs">Days post HCT</text>
<path d="M305 271.5L319.18 271.5L333.35 271.5L347.52 271.5L361.7 271.5L375.88 271.5L390.05 271.5L404.23 270.14L418.4 267.65" stroke="#ae0c3a" stroke-width="1.3" fill="none" stroke-linejoin="round"/>
<circle cx="305" cy="271.5" r="2.2" stroke="#a6002e" stroke-width="1.1" fill="#fff"/>
<circle cx="319.18" cy="271.5" r="2.2" stroke="#a6002e" stroke-width="1.1" fill="#fff"/>
<circle cx="333.35" cy="271.5" r="2.2" stroke="#a6002e" stroke-width="1.1" fill="#fff"/>
<circle cx="347.52" cy="271.5" r="2.2" stroke="#a6002e" stroke-width="1.1" fill="#fff"/>
<circle cx="361.7" cy="271.5" r="2.2" stroke="#a6002e" stroke-width="1.1" fill="#fff"/>
<circle cx="375.88" cy="271.5" r="2.2" stroke="#a6002e" stroke-width="1.1" fill="#fff"/>
<circle cx="390.05" cy="271.5" r="2.2" stroke="#a6002e" stroke-width="1.1" fill="#fff"/>
<circle cx="404.23" cy="270.14" r="2.2" stroke="#a6002e" stroke-width="1.1" fill="#fff"/>
<circle cx="418.4" cy="267.65" r="2.2" stroke="#a6002e" stroke-width="1.1" fill="#fff"/>
<path d="M305 271.5L319.18 271.5L333.35 271.5L347.52 271.5L361.7 271.5L375.88 271.5L390.05 271.5L404.23 269.35L418.4 264.6" stroke="#445f94" stroke-width="1.3" fill="none" stroke-linejoin="round"/>
<circle cx="305" cy="271.5" r="2.2" stroke="#1d3670" stroke-width="1.1" fill="#fff"/>
<circle cx="319.18" cy="271.5" r="2.2" stroke="#1d3670" stroke-width="1.1" fill="#fff"/>
<circle cx="333.35" cy="271.5" r="2.2" stroke="#1d3670" stroke-width="1.1" fill="#fff"/>
<circle cx="347.52" cy="271.5" r="2.2" stroke="#1d3670" stroke-width="1.1" fill="#fff"/>
<circle cx="361.7" cy="271.5" r="2.2" stroke="#1d3670" stroke-width="1.1" fill="#fff"/>
<circle cx="375.88" cy="271.5" r="2.2" stroke="#1d3670" stroke-width="1.1" fill="#fff"/>
<circle cx="390.05" cy="271.5" r="2.2" stroke="#1d3670" stroke-width="1.1" fill="#fff"/>
<circle cx="404.23" cy="269.35" r="2.2" stroke="#1d3670" stroke-width="1.1" fill="#fff"/>
<circle cx="418.4" cy="264.6" r="2.2" stroke="#1d3670" stroke-width="1.1" fill="#fff"/>
<line x1="347.52" y1="263.02" x2="347.52" y2="266.41" stroke="#ae0c3a" stroke-width="1.1"/>
<line x1="345.52" y1="263.02" x2="349.52" y2="263.02" stroke="#ae0c3a" stroke-width="1.1"/>
<line x1="345.52" y1="266.41" x2="349.52" y2="266.41" stroke="#ae0c3a" stroke-width="1.1"/>
<line x1="361.7" y1="252.5" x2="361.7" y2="263.36" stroke="#ae0c3a" stroke-width="1.1"/>
<line x1="359.7" y1="252.5" x2="363.7" y2="252.5" stroke="#ae0c3a" stroke-width="1.1"/>
<line x1="359.7" y1="263.36" x2="363.7" y2="263.36" stroke="#ae0c3a" stroke-width="1.1"/>
<line x1="375.88" y1="264.15" x2="375.88" y2="267.54" stroke="#ae0c3a" stroke-width="1.1"/>
<line x1="373.88" y1="264.15" x2="377.88" y2="264.15" stroke="#ae0c3a" stroke-width="1.1"/>
<line x1="373.88" y1="267.54" x2="377.88" y2="267.54" stroke="#ae0c3a" stroke-width="1.1"/>
<line x1="390.05" y1="253.06" x2="390.05" y2="263.24" stroke="#ae0c3a" stroke-width="1.1"/>
<line x1="388.05" y1="253.06" x2="392.05" y2="253.06" stroke="#ae0c3a" stroke-width="1.1"/>
<line x1="388.05" y1="263.24" x2="392.05" y2="263.24" stroke="#ae0c3a" stroke-width="1.1"/>
<line x1="404.23" y1="244.12" x2="404.23" y2="258.15" stroke="#ae0c3a" stroke-width="1.1"/>
<line x1="402.23" y1="244.12" x2="406.23" y2="244.12" stroke="#ae0c3a" stroke-width="1.1"/>
<line x1="402.23" y1="258.15" x2="406.23" y2="258.15" stroke="#ae0c3a" stroke-width="1.1"/>
<line x1="418.4" y1="247.18" x2="418.4" y2="260.53" stroke="#ae0c3a" stroke-width="1.1"/>
<line x1="416.4" y1="247.18" x2="420.4" y2="247.18" stroke="#ae0c3a" stroke-width="1.1"/>
<line x1="416.4" y1="260.53" x2="420.4" y2="260.53" stroke="#ae0c3a" stroke-width="1.1"/>
<path d="M305 271.5L319.18 271.5L333.35 271.5L347.52 264.71L361.7 257.93L375.88 265.84L390.05 258.15L404.23 251.14L418.4 253.85" stroke="#ae0c3a" stroke-width="1.3" fill="none" stroke-linejoin="round"/>
<rect x="302.75" y="269.25" width="4.5" height="4.5" fill="#a6002e"/>
<rect x="316.93" y="269.25" width="4.5" height="4.5" fill="#a6002e"/>
<rect x="331.1" y="269.25" width="4.5" height="4.5" fill="#a6002e"/>
<rect x="345.27" y="262.46" width="4.5" height="4.5" fill="#a6002e"/>
<rect x="359.45" y="255.68" width="4.5" height="4.5" fill="#a6002e"/>
<rect x="373.62" y="263.59" width="4.5" height="4.5" fill="#a6002e"/>
<rect x="387.8" y="255.9" width="4.5" height="4.5" fill="#a6002e"/>
<rect x="401.98" y="248.89" width="4.5" height="4.5" fill="#a6002e"/>
<rect x="416.15" y="251.6" width="4.5" height="4.5" fill="#a6002e"/>
<line x1="361.7" y1="250.01" x2="361.7" y2="266.3" stroke="#445f94" stroke-width="1.1"/>
<line x1="359.7" y1="250.01" x2="363.7" y2="250.01" stroke="#445f94" stroke-width="1.1"/>
<line x1="359.7" y1="266.3" x2="363.7" y2="266.3" stroke="#445f94" stroke-width="1.1"/>
<line x1="375.88" y1="264.26" x2="375.88" y2="267.65" stroke="#445f94" stroke-width="1.1"/>
<line x1="373.88" y1="264.26" x2="377.88" y2="264.26" stroke="#445f94" stroke-width="1.1"/>
<line x1="373.88" y1="267.65" x2="377.88" y2="267.65" stroke="#445f94" stroke-width="1.1"/>
<line x1="390.05" y1="252.95" x2="390.05" y2="264.26" stroke="#445f94" stroke-width="1.1"/>
<line x1="388.05" y1="252.95" x2="392.05" y2="252.95" stroke="#445f94" stroke-width="1.1"/>
<line x1="388.05" y1="264.26" x2="392.05" y2="264.26" stroke="#445f94" stroke-width="1.1"/>
<line x1="404.23" y1="248.99" x2="404.23" y2="260.3" stroke="#445f94" stroke-width="1.1"/>
<line x1="402.23" y1="248.99" x2="406.23" y2="248.99" stroke="#445f94" stroke-width="1.1"/>
<line x1="402.23" y1="260.3" x2="406.23" y2="260.3" stroke="#445f94" stroke-width="1.1"/>
<line x1="418.4" y1="250.91" x2="418.4" y2="261.09" stroke="#445f94" stroke-width="1.1"/>
<line x1="416.4" y1="250.91" x2="420.4" y2="250.91" stroke="#445f94" stroke-width="1.1"/>
<line x1="416.4" y1="261.09" x2="420.4" y2="261.09" stroke="#445f94" stroke-width="1.1"/>
<path d="M305 271.5L319.18 271.5L333.35 271.5L347.52 271.5L361.7 258.15L375.88 265.96L390.05 258.6L404.23 254.64L418.4 256" stroke="#445f94" stroke-width="1.3" fill="none" stroke-linejoin="round"/>
<rect x="302.75" y="269.25" width="4.5" height="4.5" fill="#1d3670"/>
<rect x="316.93" y="269.25" width="4.5" height="4.5" fill="#1d3670"/>
<rect x="331.1" y="269.25" width="4.5" height="4.5" fill="#1d3670"/>
<rect x="345.27" y="269.25" width="4.5" height="4.5" fill="#1d3670"/>
<rect x="359.45" y="255.9" width="4.5" height="4.5" fill="#1d3670"/>
<rect x="373.62" y="263.71" width="4.5" height="4.5" fill="#1d3670"/>
<rect x="387.8" y="256.35" width="4.5" height="4.5" fill="#1d3670"/>
<rect x="401.98" y="252.39" width="4.5" height="4.5" fill="#1d3670"/>
<rect x="416.15" y="253.75" width="4.5" height="4.5" fill="#1d3670"/>
<circle cx="305" cy="271.5" r="2.5" stroke="#1d3670" stroke-width="0.1" fill="#1d3670"/>
<circle cx="319.18" cy="271.5" r="2.5" stroke="#1d3670" stroke-width="0.1" fill="#1d3670"/>
<circle cx="333.35" cy="271.5" r="2.5" stroke="#1d3670" stroke-width="0.1" fill="#1d3670"/>
<circle cx="436.9" cy="193.8" r="2.2" stroke="#1d3670" stroke-width="1.1" fill="none"/>
<line x1="436.9" y1="191.6" x2="436.9" y2="196" stroke="#445f94" stroke-width="0.9"/>
<line x1="433.3" y1="193.8" x2="440.5" y2="193.8" stroke="#445f94" stroke-width="1.1"/>
<circle cx="436.9" cy="203.6" r="2.2" stroke="#a6002e" stroke-width="1.1" fill="none"/>
<line x1="436.9" y1="201.4" x2="436.9" y2="205.8" stroke="#ae0c3a" stroke-width="0.9"/>
<line x1="433.3" y1="203.6" x2="440.5" y2="203.6" stroke="#ae0c3a" stroke-width="1.1"/>
<rect x="434.9" y="212.2" width="4" height="4" fill="#1d3670"/>
<line x1="433.3" y1="214.2" x2="440.5" y2="214.2" stroke="#1d3670" stroke-width="1.1"/>
<rect x="434.9" y="222.8" width="4" height="4" fill="#a6002e"/>
<line x1="433.3" y1="224.8" x2="440.5" y2="224.8" stroke="#a6002e" stroke-width="1.1"/>
<text x="443.8" y="195.9" font-size="6.3" fill="#222" textLength="49.2" lengthAdjust="spacingAndGlyphs"><tspan font-style="italic">f/f  Ripk3</tspan><tspan font-size="3.9" dy="-2.4">-/-</tspan><tspan dy="2.4"> BM-only</tspan></text>
<text x="443.8" y="205.7" font-size="6.3" fill="#222" textLength="54.3" lengthAdjust="spacingAndGlyphs"><tspan font-style="italic">ΔIEC Ripk3</tspan><tspan font-size="3.9" dy="-2.4">-/-</tspan><tspan dy="2.4"> BM-only</tspan></text>
<text x="443.8" y="216.3" font-size="6.3" fill="#222" textLength="56.1" lengthAdjust="spacingAndGlyphs"><tspan font-style="italic">f/f  Ripk3</tspan><tspan font-size="3.9" dy="-2.4">-/-</tspan><tspan dy="2.4"> BM+T cells</tspan></text>
<text x="443.8" y="226.9" font-size="6.3" fill="#222" textLength="61.2" lengthAdjust="spacingAndGlyphs"><tspan font-style="italic">ΔIEC Ripk3</tspan><tspan font-size="3.9" dy="-2.4">-/-</tspan><tspan dy="2.4"> BM+T cells</tspan></text>
<text x="282.2" y="324.8" font-size="12.6" fill="#000" textLength="6.8" lengthAdjust="spacingAndGlyphs" font-weight="bold" stroke="#000" stroke-width="0.45">F</text>
<line x1="305.4" y1="331.2" x2="305.4" y2="425.3" stroke="#1c1c1c" stroke-width="1.3"/>
<line x1="304.75" y1="425.3" x2="429.8" y2="425.3" stroke="#1c1c1c" stroke-width="1.35"/>
<line x1="302.5" y1="425.3" x2="305.4" y2="425.3" stroke="#1c1c1c" stroke-width="1.2"/>
<text x="299.1" y="427.55" font-size="7.8" fill="#2a2a2a" text-anchor="end" textLength="3.8" lengthAdjust="spacingAndGlyphs">0</text>
<line x1="302.5" y1="402.57" x2="305.4" y2="402.57" stroke="#1c1c1c" stroke-width="1.2"/>
<text x="299.1" y="404.82" font-size="7.8" fill="#2a2a2a" text-anchor="end" textLength="3.8" lengthAdjust="spacingAndGlyphs">2</text>
<line x1="302.5" y1="379.85" x2="305.4" y2="379.85" stroke="#1c1c1c" stroke-width="1.2"/>
<text x="299.1" y="382.1" font-size="7.8" fill="#2a2a2a" text-anchor="end" textLength="3.8" lengthAdjust="spacingAndGlyphs">4</text>
<line x1="302.5" y1="357.12" x2="305.4" y2="357.12" stroke="#1c1c1c" stroke-width="1.2"/>
<text x="299.1" y="359.38" font-size="7.8" fill="#2a2a2a" text-anchor="end" textLength="3.8" lengthAdjust="spacingAndGlyphs">6</text>
<line x1="302.5" y1="334.4" x2="305.4" y2="334.4" stroke="#1c1c1c" stroke-width="1.2"/>
<text x="299.1" y="336.65" font-size="7.8" fill="#2a2a2a" text-anchor="end" textLength="3.8" lengthAdjust="spacingAndGlyphs">8</text>
<line x1="305.5" y1="425.3" x2="305.5" y2="428.3" stroke="#1c1c1c" stroke-width="1.1"/>
<text x="305.4" y="437.8" font-size="7.5" fill="#2a2a2a" text-anchor="middle" textLength="3.8" lengthAdjust="spacingAndGlyphs">0</text>
<line x1="345.5" y1="425.3" x2="345.5" y2="428.3" stroke="#1c1c1c" stroke-width="1.1"/>
<text x="345.9" y="437.8" font-size="7.5" fill="#2a2a2a" text-anchor="middle" textLength="7.3" lengthAdjust="spacingAndGlyphs">20</text>
<line x1="386.5" y1="425.3" x2="386.5" y2="428.3" stroke="#1c1c1c" stroke-width="1.1"/>
<text x="386.4" y="437.8" font-size="7.5" fill="#2a2a2a" text-anchor="middle" textLength="7.3" lengthAdjust="spacingAndGlyphs">40</text>
<line x1="426.5" y1="425.3" x2="426.5" y2="428.3" stroke="#1c1c1c" stroke-width="1.1"/>
<text x="426.9" y="437.8" font-size="7.5" fill="#2a2a2a" text-anchor="middle" textLength="7.3" lengthAdjust="spacingAndGlyphs">60</text>
<text x="289.5" y="378.5" font-size="9.6" fill="#2a2a2a" text-anchor="middle" textLength="41.8" lengthAdjust="spacingAndGlyphs" transform="rotate(-90 289.5 378.5)">Disease score</text>
<text x="367.5" y="449.7" font-size="10.6" fill="#2a2a2a" text-anchor="middle" textLength="44.4" lengthAdjust="spacingAndGlyphs">Days post HCT</text>
<line x1="333.75" y1="414.51" x2="333.75" y2="421.55" stroke="#ae0c3a" stroke-width="1.1"/>
<line x1="331.75" y1="414.51" x2="335.75" y2="414.51" stroke="#ae0c3a" stroke-width="1.1"/>
<line x1="331.75" y1="421.55" x2="335.75" y2="421.55" stroke="#ae0c3a" stroke-width="1.1"/>
<line x1="347.92" y1="408.82" x2="347.92" y2="417.01" stroke="#ae0c3a" stroke-width="1.1"/>
<line x1="345.92" y1="408.82" x2="349.92" y2="408.82" stroke="#ae0c3a" stroke-width="1.1"/>
<line x1="345.92" y1="417.01" x2="349.92" y2="417.01" stroke="#ae0c3a" stroke-width="1.1"/>
<line x1="362.1" y1="398.37" x2="362.1" y2="406.32" stroke="#ae0c3a" stroke-width="1.1"/>
<line x1="360.1" y1="398.37" x2="364.1" y2="398.37" stroke="#ae0c3a" stroke-width="1.1"/>
<line x1="360.1" y1="406.32" x2="364.1" y2="406.32" stroke="#ae0c3a" stroke-width="1.1"/>
<line x1="376.27" y1="371.9" x2="376.27" y2="390.76" stroke="#ae0c3a" stroke-width="1.1"/>
<line x1="374.27" y1="371.9" x2="378.27" y2="371.9" stroke="#ae0c3a" stroke-width="1.1"/>
<line x1="374.27" y1="390.76" x2="378.27" y2="390.76" stroke="#ae0c3a" stroke-width="1.1"/>
<line x1="390.45" y1="382.92" x2="390.45" y2="391.1" stroke="#ae0c3a" stroke-width="1.1"/>
<line x1="388.45" y1="382.92" x2="392.45" y2="382.92" stroke="#ae0c3a" stroke-width="1.1"/>
<line x1="388.45" y1="391.1" x2="392.45" y2="391.1" stroke="#ae0c3a" stroke-width="1.1"/>
<line x1="404.62" y1="353.49" x2="404.62" y2="364.17" stroke="#ae0c3a" stroke-width="1.1"/>
<line x1="402.62" y1="353.49" x2="406.62" y2="353.49" stroke="#ae0c3a" stroke-width="1.1"/>
<line x1="402.62" y1="364.17" x2="406.62" y2="364.17" stroke="#ae0c3a" stroke-width="1.1"/>
<line x1="418.8" y1="343.15" x2="418.8" y2="363.15" stroke="#ae0c3a" stroke-width="1.1"/>
<line x1="416.8" y1="343.15" x2="420.8" y2="343.15" stroke="#ae0c3a" stroke-width="1.1"/>
<line x1="416.8" y1="363.15" x2="420.8" y2="363.15" stroke="#ae0c3a" stroke-width="1.1"/>
<path d="M305.4 425.3L319.57 425.3L333.75 418.03L347.92 412.91L362.1 402.35L376.27 381.33L390.45 387.01L404.62 358.83L418.8 353.15" stroke="#ae0c3a" stroke-width="1.3" fill="none" stroke-linejoin="round"/>
<rect x="303.15" y="423.05" width="4.5" height="4.5" fill="#a6002e"/>
<rect x="317.32" y="423.05" width="4.5" height="4.5" fill="#a6002e"/>
<rect x="331.5" y="415.78" width="4.5" height="4.5" fill="#a6002e"/>
<rect x="345.67" y="410.66" width="4.5" height="4.5" fill="#a6002e"/>
<rect x="359.85" y="400.1" width="4.5" height="4.5" fill="#a6002e"/>
<rect x="374.02" y="379.08" width="4.5" height="4.5" fill="#a6002e"/>
<rect x="388.2" y="384.76" width="4.5" height="4.5" fill="#a6002e"/>
<rect x="402.38" y="356.58" width="4.5" height="4.5" fill="#a6002e"/>
<rect x="416.55" y="350.9" width="4.5" height="4.5" fill="#a6002e"/>
<line x1="347.92" y1="417.35" x2="347.92" y2="421.89" stroke="#ae0c3a" stroke-width="1.1"/>
<line x1="345.92" y1="417.35" x2="349.92" y2="417.35" stroke="#ae0c3a" stroke-width="1.1"/>
<line x1="345.92" y1="421.89" x2="349.92" y2="421.89" stroke="#ae0c3a" stroke-width="1.1"/>
<line x1="362.1" y1="413.37" x2="362.1" y2="420.19" stroke="#ae0c3a" stroke-width="1.1"/>
<line x1="360.1" y1="413.37" x2="364.1" y2="413.37" stroke="#ae0c3a" stroke-width="1.1"/>
<line x1="360.1" y1="420.19" x2="364.1" y2="420.19" stroke="#ae0c3a" stroke-width="1.1"/>
<line x1="376.27" y1="407.35" x2="376.27" y2="414.16" stroke="#ae0c3a" stroke-width="1.1"/>
<line x1="374.27" y1="407.35" x2="378.27" y2="407.35" stroke="#ae0c3a" stroke-width="1.1"/>
<line x1="374.27" y1="414.16" x2="378.27" y2="414.16" stroke="#ae0c3a" stroke-width="1.1"/>
<line x1="390.45" y1="411.67" x2="390.45" y2="420.76" stroke="#ae0c3a" stroke-width="1.1"/>
<line x1="388.45" y1="411.67" x2="392.45" y2="411.67" stroke="#ae0c3a" stroke-width="1.1"/>
<line x1="388.45" y1="420.76" x2="392.45" y2="420.76" stroke="#ae0c3a" stroke-width="1.1"/>
<line x1="404.62" y1="405.87" x2="404.62" y2="412.69" stroke="#ae0c3a" stroke-width="1.1"/>
<line x1="402.62" y1="405.87" x2="406.62" y2="405.87" stroke="#ae0c3a" stroke-width="1.1"/>
<line x1="402.62" y1="412.69" x2="406.62" y2="412.69" stroke="#ae0c3a" stroke-width="1.1"/>
<line x1="418.8" y1="390.64" x2="418.8" y2="400.87" stroke="#ae0c3a" stroke-width="1.1"/>
<line x1="416.8" y1="390.64" x2="420.8" y2="390.64" stroke="#ae0c3a" stroke-width="1.1"/>
<line x1="416.8" y1="400.87" x2="420.8" y2="400.87" stroke="#ae0c3a" stroke-width="1.1"/>
<path d="M305.4 425.3L319.57 425.3L333.75 425.3L347.92 419.62L362.1 416.78L376.27 410.76L390.45 416.21L404.62 409.28L418.8 395.76" stroke="#ae0c3a" stroke-width="1.3" fill="none" stroke-linejoin="round"/>
<path d="M305.4 422.8L307.9 425.3L305.4 427.8L302.9 425.3Z" stroke="#a6002e" stroke-width="1" fill="none"/>
<path d="M319.57 422.8L322.07 425.3L319.57 427.8L317.07 425.3Z" stroke="#a6002e" stroke-width="1" fill="none"/>
<path d="M333.75 422.8L336.25 425.3L333.75 427.8L331.25 425.3Z" stroke="#a6002e" stroke-width="1" fill="none"/>
<path d="M347.92 417.12L350.42 419.62L347.92 422.12L345.42 419.62Z" stroke="#a6002e" stroke-width="1" fill="none"/>
<path d="M362.1 414.28L364.6 416.78L362.1 419.28L359.6 416.78Z" stroke="#a6002e" stroke-width="1" fill="none"/>
<path d="M376.27 408.26L378.77 410.76L376.27 413.26L373.77 410.76Z" stroke="#a6002e" stroke-width="1" fill="none"/>
<path d="M390.45 413.71L392.95 416.21L390.45 418.71L387.95 416.21Z" stroke="#a6002e" stroke-width="1" fill="none"/>
<path d="M404.62 406.78L407.12 409.28L404.62 411.78L402.12 409.28Z" stroke="#a6002e" stroke-width="1" fill="none"/>
<path d="M418.8 393.26L421.3 395.76L418.8 398.26L416.3 395.76Z" stroke="#a6002e" stroke-width="1" fill="none"/>
<line x1="347.92" y1="415.07" x2="347.92" y2="421.89" stroke="#445f94" stroke-width="1.1"/>
<line x1="345.92" y1="415.07" x2="349.92" y2="415.07" stroke="#445f94" stroke-width="1.1"/>
<line x1="345.92" y1="421.89" x2="349.92" y2="421.89" stroke="#445f94" stroke-width="1.1"/>
<line x1="362.1" y1="404.62" x2="362.1" y2="413.71" stroke="#445f94" stroke-width="1.1"/>
<line x1="360.1" y1="404.62" x2="364.1" y2="404.62" stroke="#445f94" stroke-width="1.1"/>
<line x1="360.1" y1="413.71" x2="364.1" y2="413.71" stroke="#445f94" stroke-width="1.1"/>
<line x1="376.27" y1="391.1" x2="376.27" y2="405.87" stroke="#445f94" stroke-width="1.1"/>
<line x1="374.27" y1="391.1" x2="378.27" y2="391.1" stroke="#445f94" stroke-width="1.1"/>
<line x1="374.27" y1="405.87" x2="378.27" y2="405.87" stroke="#445f94" stroke-width="1.1"/>
<line x1="390.45" y1="383.6" x2="390.45" y2="405.87" stroke="#445f94" stroke-width="1.1"/>
<line x1="388.45" y1="383.6" x2="392.45" y2="383.6" stroke="#445f94" stroke-width="1.1"/>
<line x1="388.45" y1="405.87" x2="392.45" y2="405.87" stroke="#445f94" stroke-width="1.1"/>
<line x1="404.62" y1="390.19" x2="404.62" y2="407.23" stroke="#445f94" stroke-width="1.1"/>
<line x1="402.62" y1="390.19" x2="406.62" y2="390.19" stroke="#445f94" stroke-width="1.1"/>
<line x1="402.62" y1="407.23" x2="406.62" y2="407.23" stroke="#445f94" stroke-width="1.1"/>
<line x1="418.8" y1="379.85" x2="418.8" y2="398.03" stroke="#445f94" stroke-width="1.1"/>
<line x1="416.8" y1="379.85" x2="420.8" y2="379.85" stroke="#445f94" stroke-width="1.1"/>
<line x1="416.8" y1="398.03" x2="420.8" y2="398.03" stroke="#445f94" stroke-width="1.1"/>
<path d="M305.4 425.3L319.57 425.3L333.75 425.3L347.92 418.48L362.1 409.17L376.27 398.48L390.45 394.73L404.62 398.71L418.8 388.94" stroke="#445f94" stroke-width="1.3" fill="none" stroke-linejoin="round"/>
<path d="M305.4 422.8L307.9 425.3L305.4 427.8L302.9 425.3Z" stroke="#1d3670" stroke-width="1" fill="none"/>
<path d="M319.57 422.8L322.07 425.3L319.57 427.8L317.07 425.3Z" stroke="#1d3670" stroke-width="1" fill="none"/>
<path d="M333.75 422.8L336.25 425.3L333.75 427.8L331.25 425.3Z" stroke="#1d3670" stroke-width="1" fill="none"/>
<path d="M347.92 415.98L350.42 418.48L347.92 420.98L345.42 418.48Z" stroke="#1d3670" stroke-width="1" fill="none"/>
<path d="M362.1 406.67L364.6 409.17L362.1 411.67L359.6 409.17Z" stroke="#1d3670" stroke-width="1" fill="none"/>
<path d="M376.27 395.98L378.77 398.48L376.27 400.98L373.77 398.48Z" stroke="#1d3670" stroke-width="1" fill="none"/>
<path d="M390.45 392.23L392.95 394.73L390.45 397.23L387.95 394.73Z" stroke="#1d3670" stroke-width="1" fill="none"/>
<path d="M404.62 396.21L407.12 398.71L404.62 401.21L402.12 398.71Z" stroke="#1d3670" stroke-width="1" fill="none"/>
<path d="M418.8 386.44L421.3 388.94L418.8 391.44L416.3 388.94Z" stroke="#1d3670" stroke-width="1" fill="none"/>
<line x1="362.1" y1="417.57" x2="362.1" y2="424.39" stroke="#445f94" stroke-width="1.1"/>
<line x1="360.1" y1="417.57" x2="364.1" y2="417.57" stroke="#445f94" stroke-width="1.1"/>
<line x1="360.1" y1="424.39" x2="364.1" y2="424.39" stroke="#445f94" stroke-width="1.1"/>
<line x1="376.27" y1="408.6" x2="376.27" y2="419.51" stroke="#445f94" stroke-width="1.1"/>
<line x1="374.27" y1="408.6" x2="378.27" y2="408.6" stroke="#445f94" stroke-width="1.1"/>
<line x1="374.27" y1="419.51" x2="378.27" y2="419.51" stroke="#445f94" stroke-width="1.1"/>
<line x1="390.45" y1="410.98" x2="390.45" y2="421.44" stroke="#445f94" stroke-width="1.1"/>
<line x1="388.45" y1="410.98" x2="392.45" y2="410.98" stroke="#445f94" stroke-width="1.1"/>
<line x1="388.45" y1="421.44" x2="392.45" y2="421.44" stroke="#445f94" stroke-width="1.1"/>
<line x1="404.62" y1="404.05" x2="404.62" y2="417.69" stroke="#445f94" stroke-width="1.1"/>
<line x1="402.62" y1="404.05" x2="406.62" y2="404.05" stroke="#445f94" stroke-width="1.1"/>
<line x1="402.62" y1="417.69" x2="406.62" y2="417.69" stroke="#445f94" stroke-width="1.1"/>
<line x1="418.8" y1="386.67" x2="418.8" y2="404.85" stroke="#445f94" stroke-width="1.1"/>
<line x1="416.8" y1="386.67" x2="420.8" y2="386.67" stroke="#445f94" stroke-width="1.1"/>
<line x1="416.8" y1="404.85" x2="420.8" y2="404.85" stroke="#445f94" stroke-width="1.1"/>
<path d="M305.4 425.3L319.57 425.3L333.75 425.3L347.92 425.3L362.1 420.98L376.27 414.05L390.45 416.21L404.62 410.87L418.8 395.76" stroke="#445f94" stroke-width="1.3" fill="none" stroke-linejoin="round"/>
<rect x="303.25" y="423.15" width="4.3" height="4.3" fill="#1d3670"/>
<rect x="317.43" y="423.15" width="4.3" height="4.3" fill="#1d3670"/>
<rect x="331.6" y="423.15" width="4.3" height="4.3" fill="#1d3670"/>
<rect x="345.77" y="423.15" width="4.3" height="4.3" fill="#1d3670"/>
<rect x="359.95" y="418.83" width="4.3" height="4.3" fill="#1d3670"/>
<rect x="374.12" y="411.9" width="4.3" height="4.3" fill="#1d3670"/>
<rect x="388.3" y="414.06" width="4.3" height="4.3" fill="#1d3670"/>
<rect x="402.48" y="408.72" width="4.3" height="4.3" fill="#1d3670"/>
<rect x="416.65" y="393.61" width="4.3" height="4.3" fill="#1d3670"/>
<line x1="424.5" y1="353.9" x2="424.5" y2="394" stroke="#3a3a3a" stroke-width="1.4"/>
<rect x="427.95" y="373.15" width="1.9" height="1.7" rx="0.5" fill="#2a2a2a"/>
<rect x="437.6" y="336.7" width="4" height="4" fill="#1d3670"/>
<line x1="436" y1="338.7" x2="443.2" y2="338.7" stroke="#1d3670" stroke-width="1.1"/>
<rect x="437.6" y="346.4" width="4" height="4" fill="#a6002e"/>
<line x1="436" y1="348.4" x2="443.2" y2="348.4" stroke="#a6002e" stroke-width="1.1"/>
<path d="M439.6 355.8L442 358.2L439.6 360.6L437.2 358.2Z" stroke="#1d3670" stroke-width="1" fill="none"/>
<line x1="436" y1="358.2" x2="443.2" y2="358.2" stroke="#445f94" stroke-width="1.1"/>
<path d="M439.6 365.5L442 367.9L439.6 370.3L437.2 367.9Z" stroke="#a6002e" stroke-width="1" fill="none"/>
<line x1="436" y1="367.9" x2="443.2" y2="367.9" stroke="#ae0c3a" stroke-width="1.1"/>
<text x="446.6" y="340.8" font-size="6.3" fill="#222" textLength="35.9" lengthAdjust="spacingAndGlyphs"><tspan font-style="italic">f/f</tspan><tspan> BM+T cells</tspan></text>
<text x="446.6" y="350.5" font-size="6.3" fill="#222" textLength="42.3" lengthAdjust="spacingAndGlyphs"><tspan font-style="italic">ΔIEC</tspan><tspan> BM+T cells</tspan></text>
<text x="446.6" y="360.3" font-size="6.3" fill="#222" textLength="57.9" lengthAdjust="spacingAndGlyphs"><tspan font-style="italic">f/f</tspan><tspan> BM+T cells GSK547</tspan></text>
<text x="446.6" y="370" font-size="6.3" fill="#222" textLength="64.3" lengthAdjust="spacingAndGlyphs"><tspan font-style="italic">ΔIEC</tspan><tspan> BM+T cells GSK547</tspan></text>
<rect x="0" y="0" width="520" height="1" fill="#000"/>
<rect x="0" y="0" width="1" height="460" fill="#000"/>
<rect x="518.8" y="0" width="1.2" height="460" fill="#000"/>
<rect x="0" y="458.7" width="520" height="1.3" fill="#000"/>
</svg>
</body></html>
